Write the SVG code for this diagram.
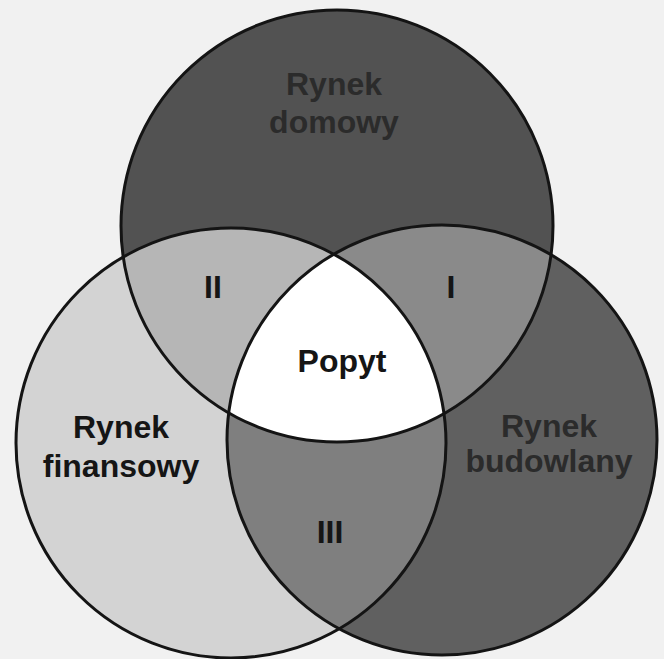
<svg xmlns="http://www.w3.org/2000/svg" width="664" height="659" viewBox="0 0 664 659">
  <style>
    .lbl { font-family: "Liberation Sans", Arial, sans-serif; font-weight: bold; font-size: 32px; text-anchor: middle; }
    .dark { fill: #2b2b2b; }
    .black { fill: #151515; }
    .ring { fill: none; stroke: #141414; stroke-width: 3; }
  </style>
  <defs>
    <clipPath id="clipTop"><circle cx="337" cy="226" r="216"/></clipPath>
    <clipPath id="clipLeft"><circle cx="231" cy="443" r="215"/></clipPath>
    <clipPath id="clipRight"><circle cx="442" cy="440" r="215"/></clipPath>
  </defs>
  <rect width="664" height="659" fill="#f1f1f1"/>

  <g id="node-domowy">
    <circle cx="337" cy="226" r="216" fill="#525252"/>
  </g>
  <g id="node-finansowy">
    <circle cx="231" cy="443" r="215" fill="#d3d3d3"/>
  </g>
  <g id="node-budowlany">
    <circle cx="442" cy="440" r="215" fill="#606060"/>
  </g>

  <g id="region-II">
    <circle cx="231" cy="443" r="215" fill="#b6b6b6" clip-path="url(#clipTop)"/>
  </g>
  <g id="region-I">
    <circle cx="442" cy="440" r="215" fill="#8a8a8a" clip-path="url(#clipTop)"/>
  </g>
  <g id="region-III">
    <circle cx="442" cy="440" r="215" fill="#7f7f7f" clip-path="url(#clipLeft)"/>
  </g>
  <g id="region-popyt">
    <g clip-path="url(#clipLeft)">
      <circle cx="442" cy="440" r="215" fill="#ffffff" clip-path="url(#clipTop)"/>
    </g>
  </g>

  <g id="outlines">
    <circle class="ring" cx="337" cy="226" r="216"/>
    <circle class="ring" cx="231" cy="443" r="215"/>
    <circle class="ring" cx="442" cy="440" r="215"/>
  </g>

  <g id="labels">
    <text class="lbl dark" x="334" y="95">Rynek</text>
    <text class="lbl dark" x="334" y="133">domowy</text>
    <text class="lbl black" x="121" y="438">Rynek</text>
    <text class="lbl black" x="121" y="477">finansowy</text>
    <text class="lbl dark" x="549" y="437">Rynek</text>
    <text class="lbl dark" x="549" y="472">budowlany</text>
    <text class="lbl black" x="342" y="372">Popyt</text>
    <text class="lbl black" x="213" y="298">II</text>
    <text class="lbl black" x="451" y="298">I</text>
    <text class="lbl black" x="330" y="543">III</text>
  </g>
</svg>
